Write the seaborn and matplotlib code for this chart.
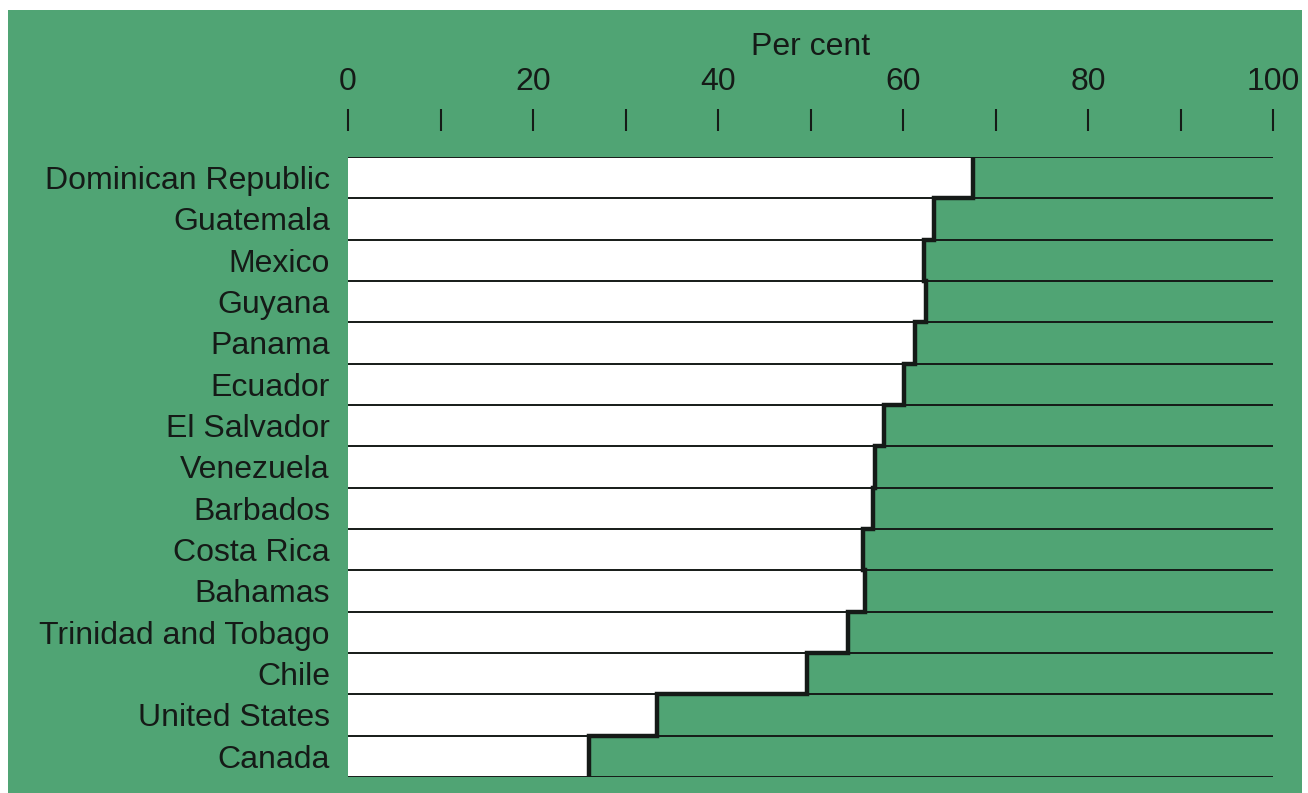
import numpy as np
import matplotlib
matplotlib.use("Agg")
import matplotlib.pyplot as plt
from matplotlib.patches import Rectangle
import seaborn as sns

# values (per cent)
countries = [
    "Dominican Republic", "Guatemala", "Mexico", "Guyana", "Panama",
    "Ecuador", "El Salvador", "Venezuela", "Barbados", "Costa Rica",
    "Bahamas", "Trinidad and Tobago", "Chile", "United States", "Canada",
]
percent = [67.6, 63.4, 62.3, 62.5, 61.3, 60.1, 57.9, 57.0, 56.8, 55.7,
           55.9, 54.0, 49.6, 33.4, 26.0]
major_ticks = [0, 20, 40, 60, 80, 100]
minor_ticks = [10, 30, 50, 70, 90]

GREEN = "#50a474"
INK = "#151a17"
FS = 23

sns.set_theme(style="white")
plt.rcParams["font.family"] = ["Liberation Sans", "DejaVu Sans"]

fig = plt.figure(figsize=(13.08, 7.93), dpi=100)
fig.patch.set_facecolor("white")
fig.patches.append(Rectangle((8 / 1308, 0), 1294 / 1308, 783 / 793,
                             transform=fig.transFigure, facecolor=GREEN,
                             edgecolor="none", zorder=-10))

ax = fig.add_axes([348 / 1308, 16 / 793, 925 / 1308, 620 / 793])
ax.set_facecolor("none")

sns.barplot(x=percent, y=countries, orient="h", color="white", saturation=1,
            width=1.0, edgecolor="none", ax=ax, zorder=2)

# row separators across the full scale
n = len(countries)
edges = np.arange(n + 1) - 0.5
ax.hlines(edges, 0, 100, color=INK, linewidth=1.4, zorder=3)

# heavy stepped outline along the bar ends
xs = np.repeat(percent, 2)
ys = np.column_stack([edges[:-1], edges[1:]]).ravel()
ax.plot(xs, ys, color=INK, linewidth=3.2, solid_joinstyle="miter",
        solid_capstyle="butt", zorder=4)

ax.set_xlim(0, 100)
ax.set_ylim(n - 0.5, -0.5)

for s in ax.spines.values():
    s.set_visible(False)
ax.spines["top"].set_position(("outward", 19))

ax.xaxis.tick_top()
ax.xaxis.set_label_position("top")
ax.set_xticks(major_ticks)
ax.set_xticks(minor_ticks, minor=True)
ax.set_xticklabels([str(t) for t in major_ticks])
ax.tick_params(axis="x", which="both", direction="out", length=16, width=1.5,
               color=INK, top=True, bottom=False)
ax.tick_params(axis="x", which="major", pad=8, labelsize=FS, labelcolor=INK)
ax.set_xlabel("Per cent", fontsize=FS, color=INK, labelpad=9)

ax.tick_params(axis="y", length=0, pad=13, labelsize=FS, labelcolor=INK)
ax.set_ylabel("")

fig.savefig("out.png", dpi=100, facecolor=fig.get_facecolor())
